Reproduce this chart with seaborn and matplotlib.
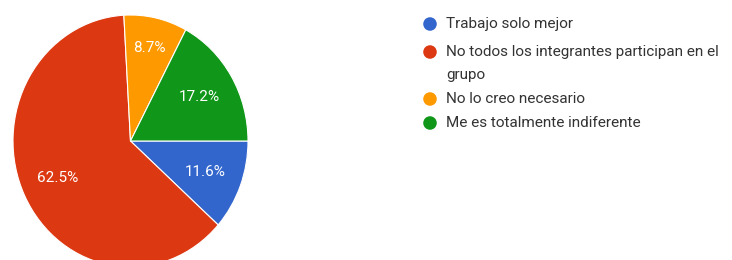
import matplotlib
matplotlib.use("Agg")
import matplotlib.pyplot as plt
import numpy as np
import seaborn as sns

categories = ["Trabajo solo mejor",
              "No todos los integrantes participan en el\ngrupo",
              "No lo creo necesario",
              "Me es totalmente indiferente"]
values = [11.6, 62.5, 8.7, 17.2]
pct_labels = ["11.6%", "62.5%", "8.7%", "17.2%"]
colors = ["#3366CC", "#DC3912", "#FF9900", "#109618"]

sns.set_theme(style="white")
plt.rcParams['font.family'] = ['Roboto', 'DejaVu Sans']

W, H = 732, 260
fig = plt.figure(figsize=(W / 100, H / 100), dpi=100)
fig.patch.set_facecolor("white")

# pie axes (slightly taller than wide, as in reference)
cx, cy, rx, ry = 130.5, 141, 117.5, 126
ax = fig.add_axes([(cx - rx) / W, 1 - (cy + ry) / H, 2 * rx / W, 2 * ry / H])
wedges, texts = ax.pie(values, colors=sns.color_palette(colors), startangle=0,
                       counterclock=False, radius=1,
                       wedgeprops=dict(edgecolor="white", linewidth=0.8))
ax.set_aspect("auto")
ax.set_xlim(-1, 1)
ax.set_ylim(-1, 1)
ax.axis("off")

# percentage labels
label_r = [0.68, 0.685, 0.755, 0.683]
for w, lab, r in zip(wedges, pct_labels, label_r):
    ang = np.deg2rad((w.theta1 + w.theta2) / 2)
    ax.text(r * np.cos(ang), r * np.sin(ang), lab, ha="center", va="center",
            color="white", fontsize=11)

# legend overlay in pixel coordinates
lax = fig.add_axes([0, 0, 1, 1], zorder=3)
lax.set_xlim(0, W)
lax.set_ylim(H, 0)
lax.axis("off")
lax.patch.set_alpha(0)
row_y = [24, 52, 99, 123]
line_gap = 23
for y, lab, c in zip(row_y, categories, colors):
    lax.scatter([430], [y], s=95, color=c, edgecolor="none")
    for i, line in enumerate(lab.split("\n")):
        lax.text(446, y + i * line_gap, line, ha="left", va="center",
                 fontsize=11, color="#333333")

fig.savefig("out.png", dpi=100, facecolor="white")
